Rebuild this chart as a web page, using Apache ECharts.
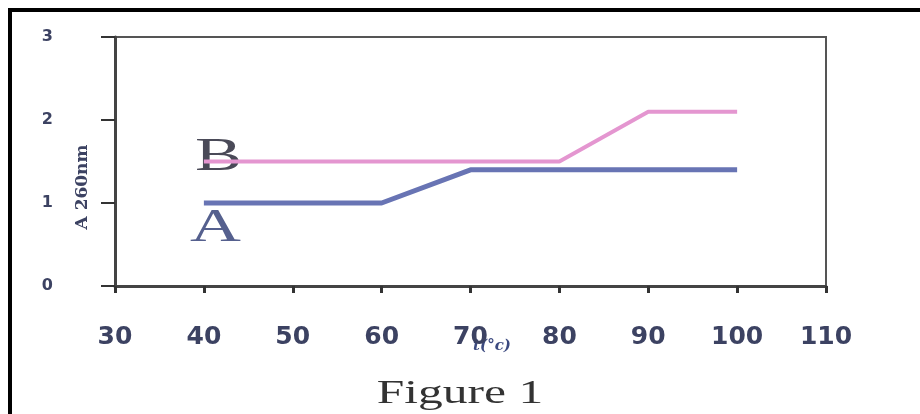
<!DOCTYPE html>
<html><head><meta charset="utf-8">
<script src="https://cdn.jsdelivr.net/npm/echarts@6/dist/echarts.min.js"></script>
<style>html,body{margin:0;padding:0;background:#fff}#c{width:920px;height:414px}</style>
</head><body><div id="c"></div>
<script>
const temps = [40, 50, 60, 70, 80, 90, 100];
const seriesA = [1.0, 1.0, 1.0, 1.4, 1.4, 1.4, 1.4];
const seriesB = [1.5, 1.5, 1.5, 1.5, 1.5, 2.1, 2.1];
const xTicks = [30, 40, 50, 60, 70, 80, 90, 100, 110];
const yTicks = [0, 1, 2, 3];

const chart = echarts.init(document.getElementById('c'));
chart.setOption({
  animation: false,
  backgroundColor: '#fff',
  grid: { left: 115, right: 94, top: 37, bottom: 128, show: true, borderColor: '#555', borderWidth: 2, backgroundColor: 'transparent' },
  xAxis: {
    type: 'value', min: xTicks[0], max: xTicks[xTicks.length - 1], interval: 10,
    axisLine: { show: true, lineStyle: { color: '#444', width: 3 } },
    axisTick: { show: true, length: 7, lineStyle: { color: '#333', width: 3 } },
    axisLabel: { margin: 39, fontSize: 25, fontWeight: 'bold', fontFamily: 'DejaVu Sans', color: '#3c4262' },
    splitLine: { show: false }
  },
  yAxis: {
    type: 'value', min: yTicks[0], max: yTicks[yTicks.length - 1], interval: 1,
    axisLine: { show: true, lineStyle: { color: '#444', width: 3 } },
    axisTick: { show: true, length: 14, lineStyle: { color: '#333', width: 2 } },
    axisLabel: { margin: 62, fontSize: 16, fontWeight: 'bold', fontFamily: 'DejaVu Sans', color: '#3c4262' },
    splitLine: { show: false }
  },
  series: [
    { name: 'A', type: 'line', data: temps.map((t, i) => [t, seriesA[i]]), showSymbol: false, lineStyle: { color: '#6874b4', width: 5 }, itemStyle: { color: '#6874b4' } },
    { name: 'B', type: 'line', data: temps.map((t, i) => [t, seriesB[i]]), showSymbol: false, lineStyle: { color: '#e496d0', width: 4 }, itemStyle: { color: '#e496d0' } }
  ],
  graphic: [
    { type: 'rect', shape: { x: 10, y: 10, width: 1000, height: 1000 }, style: { fill: 'none', stroke: '#000', lineWidth: 4 }, silent: true },
    { type: 'text', x: 195, y: 134, scaleX: 1.5, style: { text: 'B', font: '47px "Liberation Serif"', fill: '#4a4a58' } },
    { type: 'text', x: 190, y: 205, scaleX: 1.5, style: { text: 'A', font: '47px "Liberation Serif"', fill: '#55608e' } },
    { type: 'text', x: 83, y: 187, rotation: Math.PI / 2, style: { text: 'A 260nm', font: 'bold 17px "DejaVu Serif"', fill: '#3c4262', align: 'center', verticalAlign: 'middle' } },
    { type: 'text', x: 492, y: 346, style: { text: 't(°c)', font: 'italic bold 15px "DejaVu Serif"', fill: '#3c4a80', align: 'center', verticalAlign: 'middle' } },
    { type: 'text', x: 460, y: 394, scaleX: 1.5, style: { text: 'Figure 1', font: '33px "Liberation Serif"', fill: '#333', align: 'center', verticalAlign: 'middle' } }
  ]
});
</script></body></html>
